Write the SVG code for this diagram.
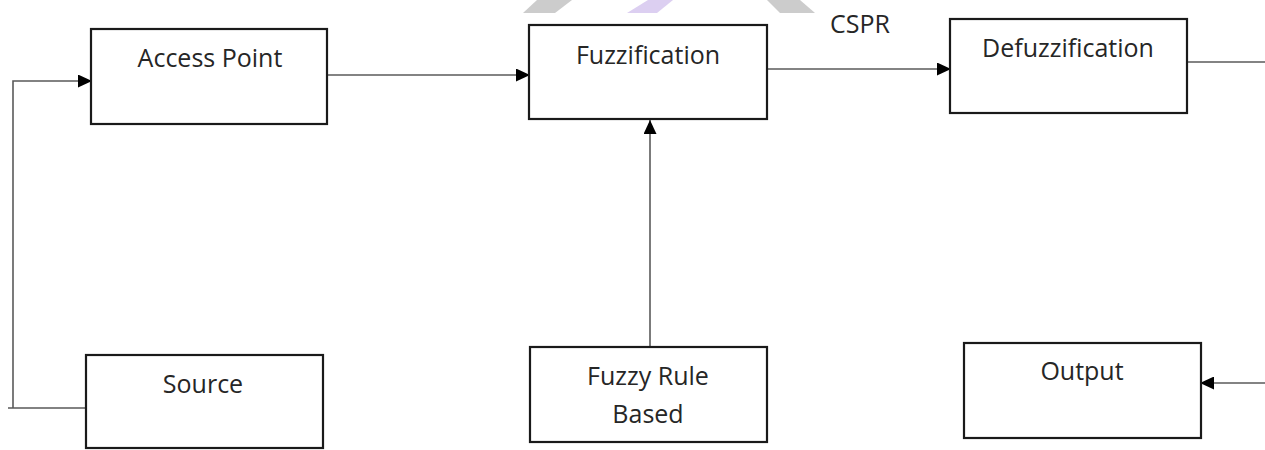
<svg xmlns="http://www.w3.org/2000/svg" width="1265" height="450" viewBox="0 0 1265 450">
  <style>
    .box { fill: #ffffff; stroke: #1a1a1a; stroke-width: 2.2; }
    .lbl { font-family: "Open Sans", "Liberation Sans", sans-serif; font-size: 25px; fill: #262626; text-anchor: middle; }
    .conn { fill: none; stroke: #5a5a5a; stroke-width: 1.6; }
  </style>
  <defs>
    <marker id="arrow" viewBox="0 0 14 13" refX="14" refY="6.5" markerWidth="14" markerHeight="13" markerUnits="userSpaceOnUse" orient="auto">
      <path d="M0,0 L14,6.5 L0,13 Z" fill="#000000"/>
    </marker>
  </defs>
  <rect width="1265" height="450" fill="#ffffff"/>
  <g id="watermark">
    <polygon points="537,0 572,0 555,13 523,13" fill="#cccccc"/>
    <polygon points="648,0 673,0 657,13 627,13" fill="#dccff1"/>
    <polygon points="767,0 800,0 815,13 780,13" fill="#cccccc"/>
  </g>
  <g id="connectors">
    <path class="conn" d="M86,408 H8 M13,408 V81 H92" marker-end="url(#arrow)"/>
    <path class="conn" d="M327,75 H530" marker-end="url(#arrow)"/>
    <path class="conn" d="M767,69 H951" marker-end="url(#arrow)"/>
    <path class="conn" d="M1187,62 H1265"/>
    <path class="conn" d="M1265,383 H1200" marker-end="url(#arrow)"/>
    <path class="conn" d="M650,347 V120" marker-end="url(#arrow)"/>
    <text class="lbl" x="860" y="33" font-size="24">CSPR</text>
  </g>
  <g id="access-point">
    <rect class="box" x="91" y="29" width="236" height="95"/>
    <text class="lbl" x="210" y="67">Access Point</text>
  </g>
  <g id="fuzzification">
    <rect class="box" x="529" y="25" width="238" height="94"/>
    <text class="lbl" x="648" y="64">Fuzzification</text>
  </g>
  <g id="defuzzification">
    <rect class="box" x="950" y="19" width="237" height="94"/>
    <text class="lbl" x="1068" y="57">Defuzzification</text>
  </g>
  <g id="source">
    <rect class="box" x="86" y="355" width="237" height="93"/>
    <text class="lbl" x="203" y="393">Source</text>
  </g>
  <g id="fuzzy-rule-based">
    <rect class="box" x="530" y="347" width="237" height="95"/>
    <text class="lbl" x="648" y="385">Fuzzy Rule</text>
    <text class="lbl" x="648" y="423">Based</text>
  </g>
  <g id="output">
    <rect class="box" x="964" y="343" width="237" height="95"/>
    <text class="lbl" x="1082" y="380">Output</text>
  </g>
</svg>
